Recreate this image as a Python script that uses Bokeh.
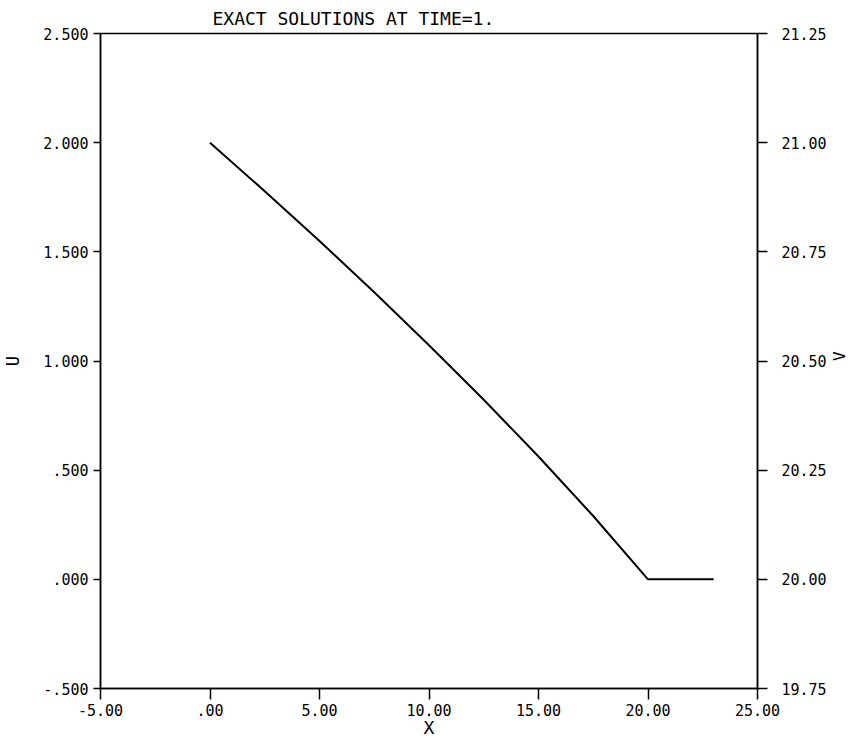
import math
from bokeh.plotting import figure
from bokeh.models import Range1d, LinearAxis, FixedTicker
from bokeh.embed import file_html
from bokeh.resources import INLINE

# data
x_vals = [0.0, 2.5, 5.0, 7.5, 10.0, 12.5, 15.0, 17.5, 20.0, 23.0]
u_vals = [2.0, 1.7775, 1.55, 1.315, 1.0725, 0.8225, 0.5625, 0.29, 0.0, 0.0]

x_ticks = [-5, 0, 5, 10, 15, 20, 25]
x_tick_labels = ["-5.00", ".00", "5.00", "10.00", "15.00", "20.00", "25.00"]
u_ticks = [-0.5, 0.0, 0.5, 1.0, 1.5, 2.0, 2.5]
u_tick_labels = ["-.500", ".000", ".500", "1.000", "1.500", "2.000", "2.500"]
v_ticks = [19.75, 20.0, 20.25, 20.5, 20.75, 21.0, 21.25]
v_tick_labels = ["19.75", "20.00", "20.25", "20.50", "20.75", "21.00", "21.25"]

title_text = "EXACT SOLUTIONS AT TIME=1."

FONT = "DejaVu Sans Mono"

p = figure(width=853, height=739, output_backend="svg", toolbar_location=None,
           x_range=Range1d(-5, 25), y_range=Range1d(-0.5, 2.5),
           x_axis_location=None, y_axis_location=None,
           min_border_left=100, min_border_right=95, min_border_top=33, min_border_bottom=51)
p.frame_width = 657
p.frame_height = 655
p.xgrid.visible = False
p.ygrid.visible = False
p.outline_line_color = "black"
p.outline_line_width = 1.5
p.background_fill_color = "white"
p.border_fill_color = "white"

p.title.text = title_text
p.title.align = "left"
p.title.offset = 112
p.title.text_font = FONT
p.title.text_font_size = "18px"
p.title.text_font_style = "normal"
p.title.text_color = "black"
p.title.standoff = 9

p.extra_y_ranges = {"v": Range1d(19.75, 21.25)}

def style(ax, standoff, lab_standoff, tick_out):
    ax.minor_tick_line_color = None
    ax.major_tick_in = 0
    ax.major_tick_out = tick_out
    ax.axis_line_width = 1.5
    ax.major_tick_line_width = 1.5
    ax.axis_line_color = "black"
    ax.major_tick_line_color = "black"
    ax.major_label_text_font = FONT
    ax.major_label_text_font_size = "15px"
    ax.major_label_text_color = "black"
    ax.major_label_standoff = standoff
    ax.axis_label_text_font = FONT
    ax.axis_label_text_font_size = "17px"
    ax.axis_label_text_font_style = "normal"
    ax.axis_label_text_color = "black"
    ax.axis_label_standoff = lab_standoff

xax = LinearAxis(ticker=FixedTicker(ticks=x_ticks), axis_label="X")
xax.major_label_overrides = {t: l for t, l in zip(x_ticks, x_tick_labels)}
style(xax, 4, -2, 11)
xax.axis_label_text_font_size = "18px"
p.add_layout(xax, "below")

uax = LinearAxis(ticker=FixedTicker(ticks=u_ticks), axis_label="U")
uax.major_label_overrides = {t: l for t, l in zip(u_ticks, u_tick_labels)}
style(uax, 5, 17, 7)
p.add_layout(uax, "left")

vax = LinearAxis(y_range_name="v", ticker=FixedTicker(ticks=v_ticks), axis_label="V")
vax.major_label_overrides = {t: l for t, l in zip(v_ticks, v_tick_labels)}
style(vax, 14, 10, 10)
vax.axis_label_text_font_size = "16px"
vax.axis_label_orientation = math.pi / 2
p.add_layout(vax, "right")

p.line(x_vals, u_vals, line_color="black", line_width=2)

open("out.html", "w").write(file_html(p, INLINE))
